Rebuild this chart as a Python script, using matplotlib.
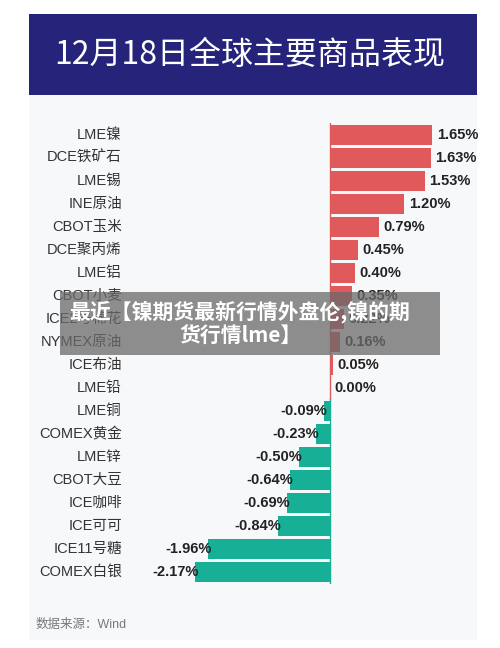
import matplotlib
matplotlib.use("Agg")
import matplotlib.pyplot as plt
from matplotlib.patches import Rectangle

plt.rcParams['font.family'] = ['Liberation Sans', 'Noto Sans CJK SC', 'DejaVu Sans']

categories = ["LME镍", "DCE铁矿石", "LME锡", "INE原油", "CBOT玉米", "DCE聚丙烯", "LME铝",
              "CBOT小麦", "ICE2号棉花", "NYMEX原油", "ICE布油", "LME铅", "LME铜", "COMEX黄金",
              "LME锌", "CBOT大豆", "ICE咖啡", "ICE可可", "ICE11号糖", "COMEX白银"]
values = [1.65, 1.63, 1.53, 1.20, 0.79, 0.45, 0.40, 0.35, 0.22, 0.16, 0.05, 0.00,
          -0.09, -0.23, -0.50, -0.64, -0.69, -0.84, -1.96, -2.17]
title = "12月18日全球主要商品表现"
source = "数据来源：Wind"
overlay = "最近【镍期货最新行情外盘伦,镍的期\n货行情lme】"

W, H = 500, 648
fig = plt.figure(figsize=(W/100, H/100), dpi=100)
fig.patch.set_facecolor("white")

def fx(px): return px / W
def fy(py): return 1 - py / H

fig.patches.append(Rectangle((fx(29), fy(640)), fx(448), (640-14)/H, transform=fig.transFigure,
                             facecolor="#f7f8fa", edgecolor="none", zorder=-2))
fig.patches.append(Rectangle((fx(29), fy(95)), fx(448), (95-14)/H, transform=fig.transFigure,
                             facecolor="#25237a", edgecolor="none", zorder=-1))
fig.text(fx(250), fy(55), title, color="white", fontsize=23, fontweight="medium",
         family=['Noto Sans CJK SC'], ha="center", va="center", zorder=2)

n = len(categories)
row_top, row_bot = 135, 572
step = (row_bot - row_top) / (n - 1)
ax = fig.add_axes([fx(29), fy(row_bot + step/2), fx(448), (row_bot - row_top + step)/H])
ax.set_zorder(3)
ax.set_facecolor("none")
scale = 62.0
ax.set_xlim(-(330-29)/scale, (477-330)/scale)
ax.set_ylim(n - 0.5, -0.5)
ax.axis("off")

ys = list(range(n))
colors = ["#e05a5c" if v >= 0 else "#17b096" for v in values]
ax.barh(ys, values, height=0.84, color=colors, zorder=2)
npos = sum(1 for v in values if v >= 0)
ax.plot([0, 0], [-0.5, npos - 0.5], color="#e05a5c", lw=1, zorder=1)
ax.plot([0, 0], [npos - 0.5, n - 0.5], color="#17b096", lw=1, zorder=1)

lab_x = -(330-122)/scale
for y, c, v in zip(ys, categories, values):
    ax.text(lab_x, y, c, ha="right", va="center", fontsize=10.5, color="#333333")
    if v >= 0:
        ax.text(v + 0.07, y, f"{v:.2f}%", ha="left", va="center", fontsize=10.5,
                fontweight="bold", color="#222222", zorder=3)
    else:
        ax.text(v + 0.05, y, f"{v:.2f}%", ha="right", va="center", fontsize=10.5,
                fontweight="bold", color="#222222", zorder=3)

fig.text(fx(36), fy(625), source, fontsize=9, color="#777777", va="center")

ov = fig.add_axes([0, 0, 1, 1])
ov.set_zorder(10)
ov.axis("off")
ov.set_xlim(0, W); ov.set_ylim(H, 0)
ov.add_patch(Rectangle((60, 292), 380, 63, facecolor="#6a6a6a", alpha=0.75, edgecolor="none"))
ov.text(240, 323, overlay, color="white", fontsize=15, fontweight="bold",
        family=['Noto Sans CJK SC'], ha="center", va="center", linespacing=1.15)

fig.savefig("out.png", dpi=100)
